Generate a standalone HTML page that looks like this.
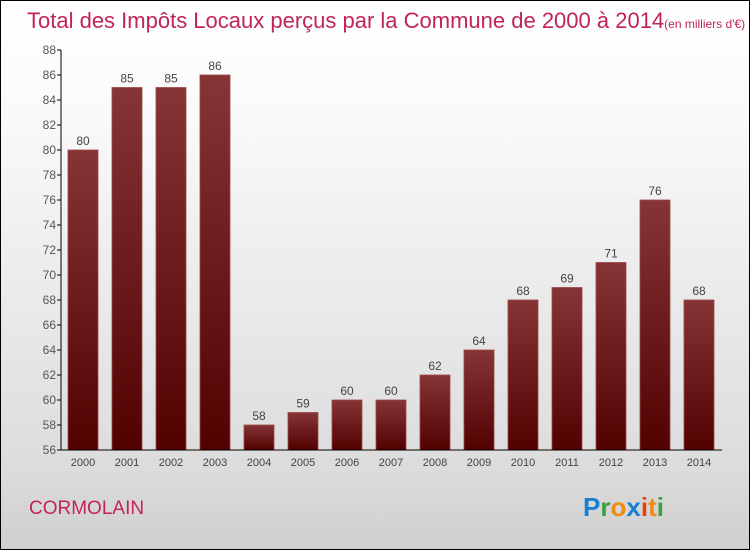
<!DOCTYPE html>
<html><head><meta charset="utf-8"><style>
body{margin:0;width:750px;height:550px;overflow:hidden;font-family:"Liberation Sans",sans-serif}
#wrap{position:relative;width:748px;height:548px;border:1px solid #000;background:linear-gradient(#fff,#fafafa 20%,#dcdcdc 85%,#cfcfcf)}
</style></head><body>
<div id="wrap">
<svg width="748" height="548" style="position:absolute;left:0;top:0" font-family="Liberation Sans, sans-serif">
<defs><linearGradient id="bg" x1="0" y1="0" x2="0" y2="1"><stop offset="0" stop-color="#863436"/><stop offset="1" stop-color="#520000"/></linearGradient></defs>
<text x="26" y="27" font-size="22" fill="#c0245a">Total des Impôts Locaux perçus par la Commune de 2000 à 2014<tspan font-size="12">(en milliers d'€)</tspan></text>
<g id="chart"></g>
<text x="28" y="513" font-size="19" fill="#c0245a">CORMOLAIN</text>
<text x="582" y="515" font-size="26" font-weight="bold"><tspan fill="#1a7fd0">P</tspan><tspan fill="#3aa23a">r</tspan><tspan fill="#f08a10">o</tspan><tspan fill="#1a7fd0">x</tspan><tspan fill="#e84010">i</tspan><tspan fill="#f08a10">t</tspan><tspan fill="#3aa23a">i</tspan></text>
</svg>
</div>
<script>
const categories=["2000","2001","2002","2003","2004","2005","2006","2007","2008","2009","2010","2011","2012","2013","2014"];
const values=[80,85,85,86,58,59,60,60,62,64,68,69,71,76,68];
const yTicks=[56,58,60,62,64,66,68,70,72,74,76,78,80,82,84,86,88];
const NS="http://www.w3.org/2000/svg";
const g=document.getElementById('chart');
const x0=60,x1=720,yTop=49,yBot=449,yMin=56,yMax=88;
const y=v=>yBot-(v-yMin)/(yMax-yMin)*(yBot-yTop);
const step=(x1-x0)/categories.length;
const xc=i=>x0+step*(i+0.5);
function mk(t,a){const e=document.createElementNS(NS,t);for(const k in a)e.setAttribute(k,a[k]);g.appendChild(e);return e;}
yTicks.forEach(v=>{
 const tl=mk('line',{x1:x0-4,x2:x0,y1:y(v),y2:y(v),stroke:'#000'});
 
 
 const t=mk('text',{x:x0-5,y:y(v)+4,'text-anchor':'end','font-size':12,fill:'#555'});
 t.textContent=v;
 
 
});
values.forEach((v,i)=>{
 const r=mk('rect',{x:xc(i)-15,y:y(v),width:30,height:yBot-y(v),fill:'url(#bg)',stroke:'#9a4848','stroke-width':0.8});
 
 
 const t=mk('text',{x:xc(i),y:y(v)-5,'text-anchor':'middle','font-size':12,fill:'#444'});
 t.textContent=v;
 
 
 const c=mk('text',{x:xc(i),y:yBot+16,'text-anchor':'middle','font-size':11,fill:'#444'});
 c.textContent=categories[i];
 
 
});
const ya=mk('line',{x1:x0,x2:x0,y1:yTop,y2:yBot,stroke:'#000'});


const xa=mk('line',{x1:x0,x2:x1+1,y1:yBot,y2:yBot,stroke:'#000'});


</script>
</body></html>
